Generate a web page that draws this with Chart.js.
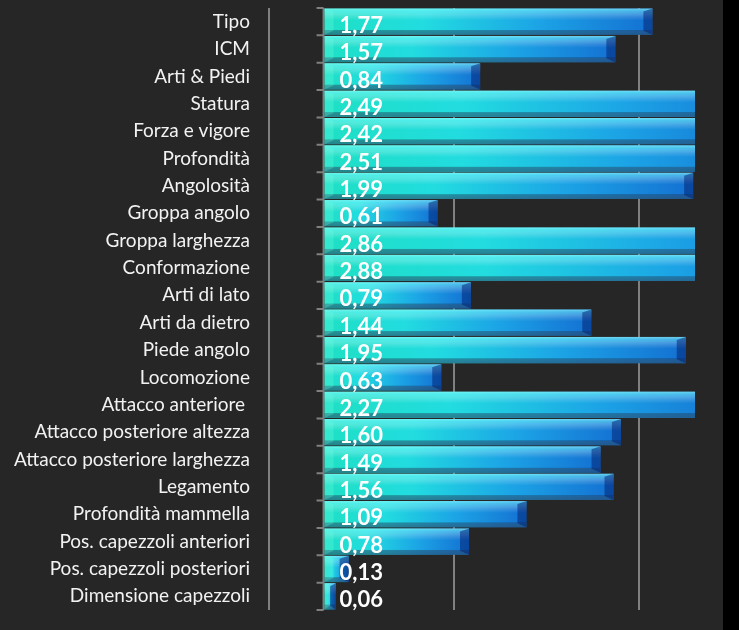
<!DOCTYPE html>
<html>
<head>
<meta charset="utf-8">
<script src="https://cdn.jsdelivr.net/npm/chart.js@4/dist/chart.umd.min.js"></script>
<style>
  html, body { margin: 0; padding: 0; background: #000; }
  #wrap { position: absolute; left: 0; top: 0; width: 723px; height: 630px; background: #262626; }
  canvas { display: block; }
</style>
</head>
<body>
<div id="wrap"><canvas id="c" width="723" height="630"></canvas></div>
<script>
const categories = [
  'Tipo', 'ICM', 'Arti & Piedi', 'Statura', 'Forza e vigore', 'Profondità',
  'Angolosità', 'Groppa angolo', 'Groppa larghezza', 'Conformazione', 'Arti di lato',
  'Arti da dietro', 'Piede angolo', 'Locomozione', 'Attacco anteriore ',
  'Attacco posteriore altezza', 'Attacco posteriore larghezza', 'Legamento',
  'Profondità mammella', 'Pos. capezzoli anteriori', 'Pos. capezzoli posteriori',
  'Dimensione capezzoli'
];
const values = [
  1.77, 1.57, 0.84, 2.49, 2.42, 2.51,
  1.99, 0.61, 2.86, 2.88, 0.79,
  1.44, 1.95, 0.63, 2.27,
  1.60, 1.49, 1.56,
  1.09, 0.78, 0.13,
  0.06
];
const xMin = -0.3;
const xMax = 2.0;
const xGridTicks = [-0.3, 0.7, 1.7];

function barGradient(ctx) {
  const chart = ctx.chart;
  const xs = chart.scales && chart.scales.x;
  if (!xs || ctx.type !== 'data') return '#20c0d8';
  const v = ctx.raw;
  const x0 = xs.getPixelForValue(0);
  const x1 = xs.getPixelForValue(v);
  if (!isFinite(x0) || !isFinite(x1)) return '#20c0d8';
  const g = chart.ctx.createLinearGradient(x0, 0, Math.max(x1, x0 + 1), 0);
  g.addColorStop(0, '#1ee0c4');
  g.addColorStop(0.3, '#22dce0');
  g.addColorStop(0.65, '#1ca4e6');
  g.addColorStop(1, '#1470d2');
  return g;
}

const axisPlugin = {
  id: 'zeroAxis',
  beforeDatasetsDraw(chart) {
    const { ctx, chartArea, scales } = chart;
    const x0 = scales.x.getPixelForValue(0) - 1;
    const n = categories.length;
    ctx.save();
    ctx.strokeStyle = '#808080';
    ctx.lineWidth = 2;
    ctx.beginPath();
    ctx.moveTo(x0, chartArea.top);
    ctx.lineTo(x0, chartArea.bottom);
    const step = (chartArea.bottom - chartArea.top) / n;
    for (let i = 0; i <= n; i++) {
      const y = chartArea.top + i * step;
      ctx.moveTo(x0 - 7, y);
      ctx.lineTo(x0, y);
    }
    ctx.stroke();
    ctx.restore();
  }
};

const bevelPlugin = {
  id: 'bevel',
  afterDatasetsDraw(chart) {
    const { ctx, chartArea, scales } = chart;
    const meta = chart.getDatasetMeta(0);
    ctx.save();
    ctx.beginPath();
    ctx.rect(chartArea.left, chartArea.top, chartArea.right - chartArea.left, chartArea.bottom - chartArea.top);
    ctx.clip();
    meta.data.forEach((bar, i) => {
      const left = bar.base;
      const right = bar.x;
      const top = bar.y - bar.height / 2;
      const bottom = bar.y + bar.height / 2;
      const w = right - left;
      const bev = Math.min(9, w / 2);
      const vg = ctx.createLinearGradient(0, top, 0, bottom);
      vg.addColorStop(0, 'rgba(160,255,255,0.65)');
      vg.addColorStop(0.1, 'rgba(130,255,255,0.45)');
      vg.addColorStop(0.3, 'rgba(255,255,255,0.15)');
      vg.addColorStop(0.45, 'rgba(255,255,255,0)');
      vg.addColorStop(0.8, 'rgba(0,0,0,0)');
      vg.addColorStop(0.84, 'rgba(40,70,100,0.5)');
      vg.addColorStop(1, 'rgba(40,70,100,0.6)');
      ctx.fillStyle = vg;
      ctx.fillRect(left, top, w, bottom - top);
      ctx.fillStyle = 'rgba(0,30,110,0.5)';
      ctx.beginPath();
      ctx.moveTo(right, top);
      ctx.lineTo(right, bottom);
      ctx.lineTo(right - bev, bottom - 4);
      ctx.lineTo(right - bev, top + 3);
      ctx.closePath();
      ctx.fill();
      ctx.fillStyle = 'rgba(120,255,230,0.25)';
      ctx.beginPath();
      ctx.moveTo(left, top);
      ctx.lineTo(left + bev, top + 3);
      ctx.lineTo(left + bev, bottom - 4);
      ctx.lineTo(left, bottom);
      ctx.closePath();
      ctx.fill();
    });
    ctx.restore();
    ctx.save();
    const x0 = scales.x.getPixelForValue(0);
    ctx.fillStyle = '#ffffff';
    ctx.font = 'bold 22px Lato';
    ctx.textAlign = 'left';
    ctx.textBaseline = 'middle';
    meta.data.forEach((bar, i) => {
      const txt = values[i].toFixed(2).replace('.', ',');
      ctx.fillText(txt, x0 + 15, bar.y + 4);
    });
    ctx.restore();
  }
};

new Chart(document.getElementById('c'), {
  type: 'bar',
  data: {
    labels: categories,
    datasets: [{
      data: values,
      backgroundColor: barGradient,
      borderWidth: 0,
      barPercentage: 0.96,
      categoryPercentage: 1.0
    }]
  },
  options: {
    indexAxis: 'y',
    responsive: false,
    animation: false,
    events: [],
    layout: { padding: { left: 0, right: 28, top: 8, bottom: 20 } },
    plugins: { legend: { display: false }, tooltip: { enabled: false } },
    scales: {
      x: {
        type: 'linear',
        min: xMin,
        max: xMax,
        afterBuildTicks: (s) => { s.ticks = xGridTicks.map(v => ({ value: v })); },
        afterFit: (s) => { s.height = 0; s.paddingLeft = 0; s.paddingRight = 0; },
        ticks: { display: false },
        grid: { color: '#808080', lineWidth: 2, drawTicks: false },
        border: { display: false }
      },
      y: {
        afterFit: (s) => { s.width = 269; s.paddingTop = 0; s.paddingBottom = 0; },
        ticks: {
          autoSkip: false,
          color: '#f2f2f2',
          padding: 19,
          font: { family: 'Lato', size: 19 }
        },
        grid: { display: false, drawTicks: false },
        border: { display: false }
      }
    }
  },
  plugins: [axisPlugin, bevelPlugin]
});
</script>
</body>
</html>
